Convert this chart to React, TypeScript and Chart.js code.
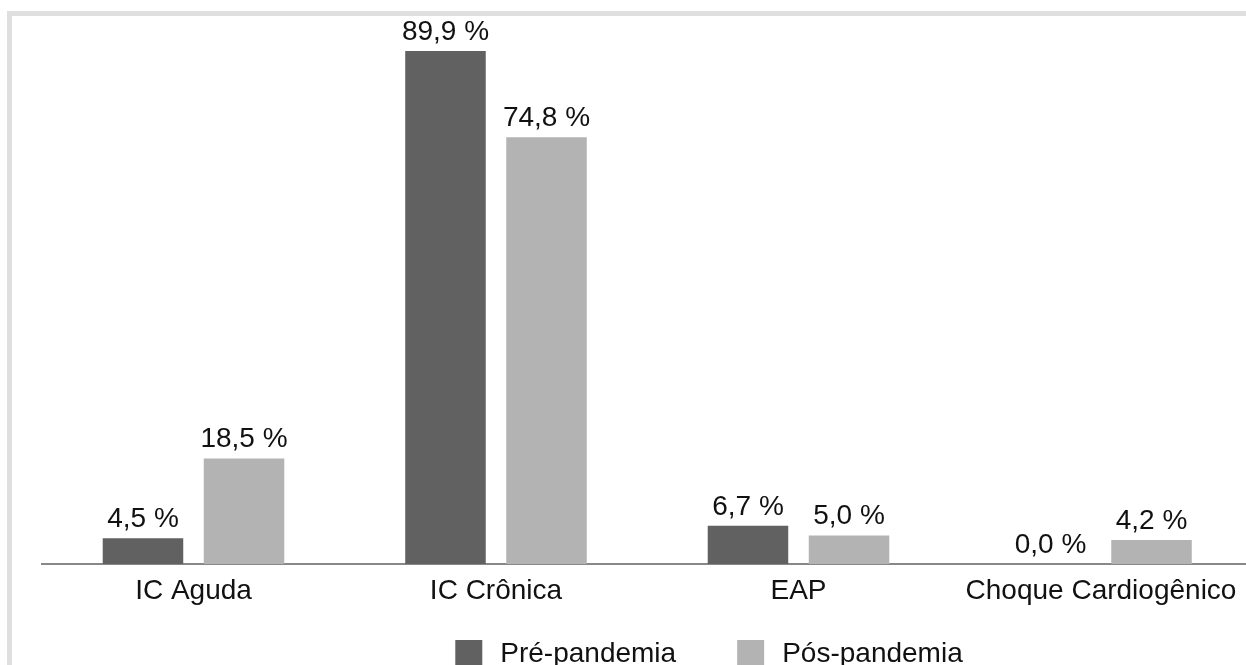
import React, { useEffect, useRef } from "react";
import { Chart, registerables } from "chart.js";

Chart.register(...registerables);

const categories = ["IC Aguda", "IC Crônica", "EAP", "Choque Cardiogênico"];
const seriesNames = ["Pré-pandemia", "Pós-pandemia"];
const preValues = [4.5, 89.9, 6.7, 0.0];
const postValues = [18.5, 74.8, 5.0, 4.2];
const seriesColors = ["#616161", "#b3b3b3"];

const FONT = "'Liberation Sans', Arial, Helvetica, sans-serif";

const fmt = (v: number) => `${v.toFixed(1).replace(".", ",")} %`;

// Percentage labels above every bar
const valueLabels = {
  id: "valueLabels",
  afterDatasetsDraw(chart: any) {
    const ctx = chart.ctx;
    ctx.save();
    ctx.font = `28px ${FONT}`;
    ctx.fillStyle = "#111";
    ctx.textAlign = "center";
    ctx.textBaseline = "alphabetic";
    chart.data.datasets.forEach((ds: any, i: number) => {
      const meta = chart.getDatasetMeta(i);
      meta.data.forEach((bar: any, j: number) => {
        ctx.fillText(fmt(ds.data[j]), bar.x, bar.y - 11);
      });
    });
    ctx.restore();
  },
};

// Legend row under the axis labels
const bottomLegend = {
  id: "bottomLegend",
  afterDraw(chart: any) {
    const ctx = chart.ctx;
    const box = 27;
    const gap = 18;
    const itemGap = 61;
    const centerX = 709;
    const boxTop = 640;
    const baseline = 662;
    ctx.save();
    ctx.font = `28px ${FONT}`;
    const items = chart.data.datasets.map((ds: any) => ({
      label: ds.label,
      color: ds.backgroundColor,
      w: box + gap + ctx.measureText(ds.label).width,
    }));
    const total = items.reduce((s: number, it: any) => s + it.w, 0) + itemGap * (items.length - 1);
    let x = centerX - total / 2;
    items.forEach((it: any) => {
      ctx.fillStyle = it.color;
      ctx.fillRect(x, boxTop, box, 28);
      ctx.fillStyle = "#111";
      ctx.textAlign = "left";
      ctx.textBaseline = "alphabetic";
      ctx.fillText(it.label, x + box + gap, baseline);
      x += it.w + itemGap;
    });
    ctx.restore();
  },
};

export default function App() {
  const canvasRef = useRef<HTMLCanvasElement | null>(null);

  useEffect(() => {
    if (!canvasRef.current) return;
    const chart = new Chart(canvasRef.current, {
      type: "bar",
      data: {
        labels: categories,
        datasets: [
          {
            label: seriesNames[0],
            data: preValues,
            backgroundColor: seriesColors[0],
            categoryPercentage: 0.668,
            barPercentage: 0.797,
          },
          {
            label: seriesNames[1],
            data: postValues,
            backgroundColor: seriesColors[1],
            categoryPercentage: 0.668,
            barPercentage: 0.797,
          },
        ],
      },
      options: {
        responsive: false,
        animation: false,
        devicePixelRatio: 1,
        layout: {
          padding: { left: 42.25, right: 17.75, top: 22, bottom: 46.4 },
        },
        plugins: {
          legend: { display: false },
          tooltip: { enabled: false },
        },
        scales: {
          x: {
            z: 1,
            grid: { display: false, drawTicks: false, tickLength: 0 },
            border: { display: true, color: "#888888", width: 2 },
            ticks: {
              color: "#111",
              font: { family: FONT, size: 28 },
              padding: 10.5,
              maxRotation: 0,
              autoSkip: false,
            },
          },
          y: {
            display: false,
            min: 0,
            max: 95,
          },
        },
      },
      plugins: [valueLabels, bottomLegend],
    });
    return () => chart.destroy();
  }, []);

  return (
    <div
      style={{
        position: "fixed",
        left: 0,
        top: 0,
        width: 1246,
        height: 665,
        overflow: "hidden",
        background: "#ffffff",
      }}
    >
      <div
        style={{
          position: "absolute",
          left: 7,
          top: 11,
          width: 1400,
          height: 800,
          borderLeft: "5px solid #dfdfdf",
          borderTop: "5px solid #dfdfdf",
        }}
      />
      <canvas
        ref={canvasRef}
        width={1270}
        height={665}
        style={{ position: "absolute", left: 0, top: 0, width: 1270, height: 665 }}
      />
    </div>
  );
}
